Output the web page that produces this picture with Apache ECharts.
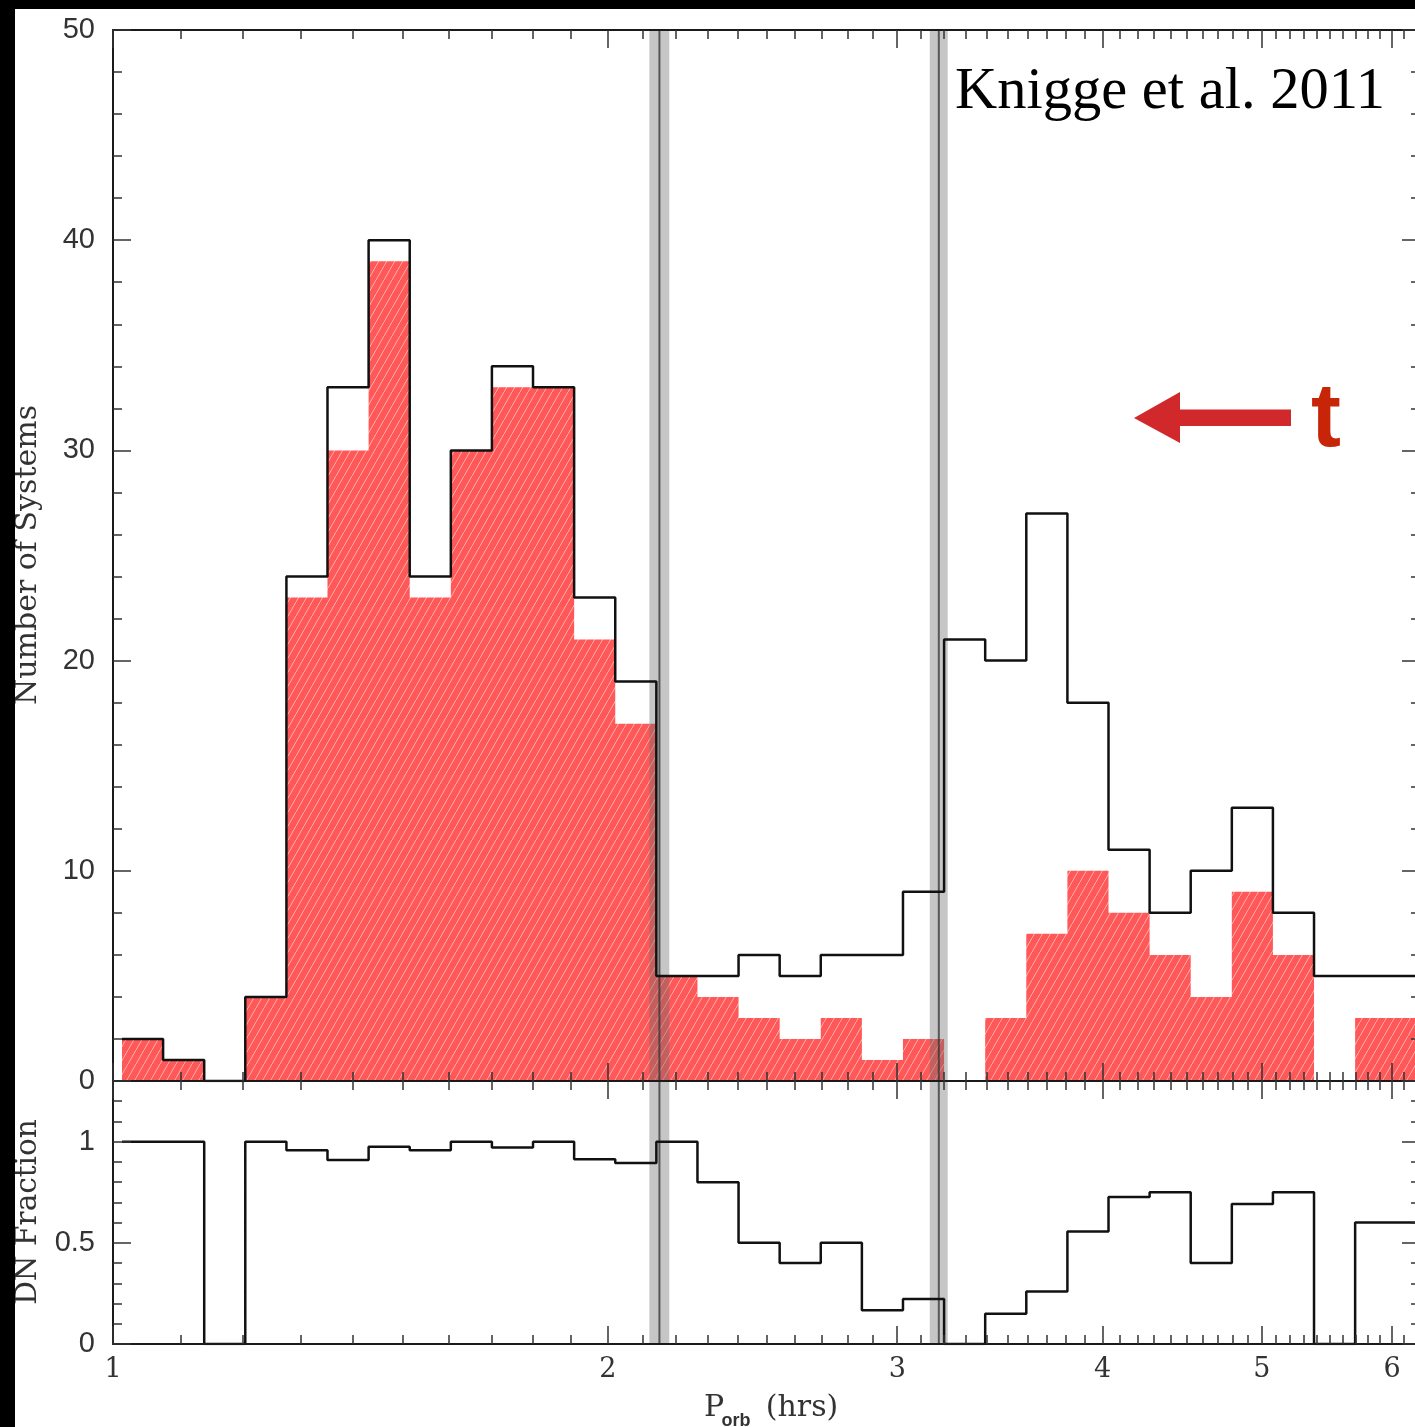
<!DOCTYPE html>
<html><head><meta charset="utf-8">
<script src="https://cdn.jsdelivr.net/npm/echarts@6/dist/echarts.min.js"></script>
<style>html,body{margin:0;padding:0;background:#fff}#c{width:1415px;height:1427px}</style>
</head><body><div id="c"></div>
<script>
// ---- data ----
const binEdges = [1.0127,1.0727,1.1363,1.2036,1.2750,1.3505,1.4306,1.5154,1.6052,1.7003,1.8011,1.9079,2.0210,2.1408,2.2677,2.4021,2.5445,2.6953,2.8551,3.0243,3.2036,3.3935,3.5946,3.8077,4.0334,4.2725,4.5257,4.7940,5.0781,5.3791,5.6980,6.0357,6.3935];
const allCounts = [2,1,0,4,24,33,40,24,30,34,33,23,19,5,5,6,5,6,6,9,21,20,27,18,11,8,10,13,8,5,5,5];
const dnCounts  = [2,1,0,4,23,30,39,23,30,33,33,21,17,5,4,3,2,3,1,2,0,3,7,10,8,6,4,9,6,0,3,3];
const dnFraction = [1,1,0,1,0.958,0.909,0.975,0.958,1,0.971,1,0.913,0.895,1,0.8,0.5,0.4,0.5,0.167,0.222,0,0.15,0.259,0.556,0.727,0.75,0.4,0.692,0.75,0,0.6,0.6];
const xMajorTicks = [1,2,3,4,5,6];
const xMinorTicks = [1.1,1.2,1.3,1.4,1.5,1.6,1.7,1.8,1.9,2.1,2.2,2.3,2.4,2.5,2.6,2.7,2.8,2.9,3.1,3.2,3.3,3.4,3.5,3.6,3.7,3.8,3.9,4.1,4.2,4.3,4.4,4.5,4.6,4.7,4.8,4.9,5.1,5.2,5.3,5.4,5.5,5.6,5.7,5.8,5.9,6.1,6.2];
const gapCentres = [2.15, 3.18];
const gapHalfWidths = [0.03, 0.04];
const xMin = 1, xMax = 6.24;
const countMax = 50, fracMax = 1.3;

// ---- helpers ----
function stepData(vals){
  const d = vals.map((v,i)=>[binEdges[i], v]);
  d.push([binEdges[vals.length], vals[vals.length-1]]);
  return d;
}
function makeHatch(){
  const c = document.createElement('canvas'); c.width = 8; c.height = 14;
  const g = c.getContext('2d');
  g.fillStyle = '#ff5858'; g.fillRect(0,0,8,14);
  g.strokeStyle = 'rgba(255,190,190,0.85)'; g.lineWidth = 1;
  g.beginPath(); g.moveTo(-1, 15.75); g.lineTo(9, -1.75); g.stroke();
  return c;
}
const AX = '#1a1a1a', TK = '#333';
function xAx(grid, pos, major, labels){
  return {
    type:'log', logBase:10, gridIndex:grid, min:xMin, max:xMax, position:pos, z:10,
    axisLine:{show:major, onZero:false, lineStyle:{color:AX, width:2}},
    axisTick:{show:true, inside:true, length: major?18:9, customValues: major?xMajorTicks:xMinorTicks, lineStyle:{color:TK, width:1.5}},
    axisLabel:{show:labels, customValues:xMajorTicks, margin:12, fontFamily:'DejaVu Serif', fontSize:27, color:'#333', formatter:v=>String(v)},
    splitLine:{show:false}, minorTick:{show:false}
  };
}
function yAx(grid, pos, max, interval, labels){
  return {
    type:'value', gridIndex:grid, min:0, max:max, interval:interval, position:pos, z:10,
    axisLine:{show:true, onZero:false, lineStyle:{color:AX, width:2}},
    axisTick:{show:true, inside:true, length:18, lineStyle:{color:TK, width:1.5}},
    minorTick:{show:true, splitNumber:5, length:9, lineStyle:{color:TK, width:1.5}},
    axisLabel:{show:labels, margin:18, fontFamily:'Liberation Sans', fontSize:29, color:'#333', showMaxLabel: max===countMax},
    splitLine:{show:false}
  };
}
function gapSeries(xi, yi, ymax){
  return {
    type:'custom', xAxisIndex:xi, yAxisIndex:yi, z:3, silent:true,
    data: gapCentres.map((c,i)=>[c-gapHalfWidths[i], c+gapHalfWidths[i], c]),
    encode:{x:[0,1,2]},
    renderItem(params, api){
      const lo = api.value(0), hi = api.value(1), c = api.value(2);
      const a = api.coord([lo, ymax]), b = api.coord([hi, 0]);
      const ct = api.coord([c, ymax]), cb = api.coord([c, 0]);
      return {type:'group', children:[
        {type:'rect', shape:{x:a[0], y:a[1], width:b[0]-a[0], height:b[1]-a[1]}, style:{fill:'rgba(105,105,105,0.38)'}},
        {type:'line', shape:{x1:ct[0], y1:ct[1], x2:cb[0], y2:cb[1]}, style:{stroke:'rgba(50,50,50,0.75)', lineWidth:2}}
      ]};
    }
  };
}

const chart = echarts.init(document.getElementById('c'), null, {renderer:'canvas'});
chart.setOption({
  animation:false,
  backgroundColor:'#ffffff',
  grid:[
    {left:113, top:30, width:1307, height:1051, outerBoundsMode:'none', containLabel:false},
    {left:113, top:1081, width:1307, height:263, outerBoundsMode:'none', containLabel:false}
  ],
  xAxis:[
    xAx(0,'bottom',true,false), xAx(0,'bottom',false,false),
    xAx(0,'top',true,false), xAx(0,'top',false,false),
    xAx(1,'bottom',true,true), xAx(1,'bottom',false,false),
    xAx(1,'top',true,false), xAx(1,'top',false,false)
  ],
  yAxis:[
    yAx(0,'left',countMax,10,true), yAx(0,'right',countMax,10,false),
    yAx(1,'left',fracMax,0.5,true), yAx(1,'right',fracMax,0.5,false)
  ],
  series:[
    {type:'line', name:'DN', xAxisIndex:0, yAxisIndex:0, step:'end', symbol:'none', z:2,
     lineStyle:{width:0}, areaStyle:{color:{image:makeHatch(), repeat:'repeat'}, opacity:1},
     data: stepData(dnCounts)},
    gapSeries(0,0,countMax),
    {type:'line', name:'All', xAxisIndex:0, yAxisIndex:0, step:'end', symbol:'none', z:4,
     lineStyle:{color:'#111', width:2.5}, data: stepData(allCounts)},
    gapSeries(4,2,fracMax),
    {type:'line', name:'Fraction', xAxisIndex:4, yAxisIndex:2, step:'end', symbol:'none', z:4,
     lineStyle:{color:'#111', width:2.5}, data: stepData(dnFraction)}
  ],
  graphic:[
    {type:'rect', shape:{x:0, y:0, width:15, height:1427}, style:{fill:'#000'}, z:100},
    {type:'rect', shape:{x:0, y:0, width:1415, height:9}, style:{fill:'#000'}, z:100},
    {type:'text', x:1385, y:93, z:50, style:{text:'Knigge et al. 2011', fontFamily:'Liberation Serif', fontSize:58.5, fill:'#000', align:'right', verticalAlign:'middle'}},
    {type:'polygon', z:50, shape:{points:[[1134,418],[1180,392],[1180,409.5],[1291,409.5],[1291,426],[1180,426],[1180,443]]}, style:{fill:'#d0282b'}},
    {type:'text', x:1326, y:421, z:50, style:{text:'t', fontFamily:'Liberation Sans', fontWeight:'bold', fontSize:90, fill:'#c82508', align:'center', verticalAlign:'middle'}},
    {type:'text', x:28, y:555, rotation:Math.PI/2, z:50, style:{text:'Number of Systems', fontFamily:'DejaVu Serif', fontSize:30, fill:'#333', align:'center', verticalAlign:'middle'}},
    {type:'text', x:28, y:1212, rotation:Math.PI/2, z:50, style:{text:'DN Fraction', fontFamily:'DejaVu Serif', fontSize:29.5, fill:'#333', align:'center', verticalAlign:'middle'}},
    {type:'text', x:714, y:1408, z:50, style:{text:'P', fontFamily:'DejaVu Serif', fontSize:30, fill:'#333', align:'center', verticalAlign:'middle'}},
    {type:'text', x:736, y:1421, z:50, style:{text:'orb', fontFamily:'Liberation Sans', fontWeight:'bold', fontSize:18, fill:'#333', align:'center', verticalAlign:'middle'}},
    {type:'text', x:802, y:1408, z:50, style:{text:'(hrs)', fontFamily:'DejaVu Serif', fontSize:30, fill:'#333', align:'center', verticalAlign:'middle'}}
  ]
});
</script></body></html>
